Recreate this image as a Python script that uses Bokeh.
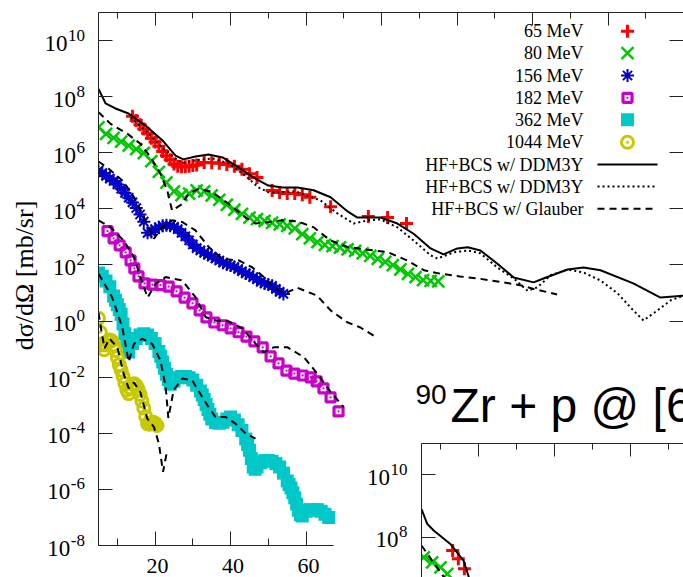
import math
from bokeh.plotting import figure
from bokeh.models import Range1d, LinearAxis, LogAxis, FixedTicker, Label, CustomJSTickFormatter
from bokeh.layouts import column
from bokeh.embed import file_html
from bokeh.resources import INLINE

# ------------------------------------------------------------------ data
# 65 MeV (red +)
red_deg = [14, 15, 16, 17, 18, 19, 20, 21, 22, 23, 24, 25, 26, 27, 28, 29, 30, 31, 33, 35, 37, 39,
           41, 43, 45, 47, 51, 53, 55, 57, 59, 61, 66.5, 76.5, 81.6, 86.6]
red_xs = [2.0e7, 1.4e7, 1.0e7, 7.1e6, 5.0e6, 3.3e6, 2.4e6, 1.7e6, 1.1e6, 7.9e5, 5.6e5, 4.0e5, 3.3e5,
          3.2e5, 3.2e5, 3.3e5, 3.5e5, 3.7e5, 4.5e5, 4.4e5, 4.2e5, 3.8e5, 3.3e5, 2.6e5, 1.8e5, 1.3e5,
          4.5e4, 3.8e4, 3.5e4, 3.5e4, 3.2e4, 2.6e4, 1.2e4, 5.4e3, 4.9e3, 3.0e3]
# 80 MeV (green x)
green_deg = [5, 7, 9, 11, 13, 15, 17, 19, 21, 23, 25, 27, 29, 31, 33, 35, 37, 39, 41, 43, 45, 47, 49,
             51, 53, 55, 57, 59, 61, 63, 65, 67, 69, 71, 73, 75, 77, 79, 81, 83, 85, 87, 89, 91, 93, 95]
green_xs = [8.1e6, 4.7e6, 3.4e6, 2.5e6, 1.8e6, 1.35e6, 9.8e5, 5.0e5, 2.1e5, 8.7e4, 4.2e4, 3.1e4, 3.5e4,
            4.6e4, 4.2e4, 3.0e4, 2.1e4, 1.4e4, 9.3e3, 6.6e3, 4.9e3, 4.3e3, 3.7e3, 3.2e3, 2.8e3, 2.5e3,
            2.0e3, 1.26e3, 8.9e2, 6.5e2, 5.2e2, 4.7e2, 4.2e2, 3.6e2, 3.2e2, 2.6e2, 2.1e2, 1.66e2, 1.29e2,
            98, 69, 48, 37, 29, 27, 26]
# 156 MeV (blue *)
blue_deg = [5, 6, 7, 8, 9, 10, 11, 12, 13, 14, 15, 16, 17, 18, 19, 20, 21, 22, 23, 24, 25, 26, 27, 28,
            29, 30, 31, 32, 33, 34, 35, 36, 37, 38, 39, 40, 41, 42, 43, 44, 45, 46, 47, 48, 49, 50, 51,
            52, 53, 54]
blue_xs = [2.3e5, 1.9e5, 1.5e5, 1.2e5, 9.8e4, 7.4e4, 5.2e4, 3.7e4, 2.5e4, 1.7e4, 1.07e4, 6.3e3, 3.5e3,
           1.4e3, 1.5e3, 1.9e3, 2.2e3, 2.5e3, 2.6e3, 2.5e3, 2.3e3, 1.9e3, 1.4e3, 1.05e3, 7.6e2, 5.4e2,
           4.0e2, 3.3e2, 2.7e2, 2.3e2, 2.0e2, 1.7e2, 1.45e2, 1.2e2, 1.07e2, 95, 85, 72, 60, 50, 44, 37,
           31, 25, 22, 20, 18, 14, 11, 9.3]
# 182 MeV (magenta squares)
mag_deg = [7.4, 9.0, 10.6, 12.2, 13.5, 14.5, 15.6, 17.2, 19.3, 21.4, 23.6, 25.7, 27.8, 29.9, 31.8, 33.6,
           35.7, 37.9, 40.0, 42.1, 44.2, 46.3, 48.5, 50.6, 52.7, 54.8, 56.9, 59.1, 61.2, 62.8, 64.6,
           66.5, 68.6]
mag_xs = [1.6e3, 8.9e2, 5.0e2, 2.8e2, 1.45e2, 76, 39, 22, 20, 19, 17, 11.5, 6.9, 4.3, 2.4, 1.35, 0.89,
          0.71, 0.55, 0.40, 0.28, 0.19, 0.115, 0.055, 0.031, 0.017, 0.0135, 0.0115, 0.0098, 0.0071,
          0.0040, 0.0019, 0.0006]
# 362 MeV (cyan filled squares)
cyan_deg = [5, 6, 7, 8, 9, 9.5, 10, 10.5, 11, 11.5, 12, 12.5, 13, 14, 15, 16, 17, 18, 19, 20, 21, 21.5,
            22, 22.5, 23, 23.5, 24, 25, 26, 27, 28, 29, 30, 31, 32, 32.5, 33, 33.5, 34, 34.5, 35, 36,
            37, 38, 39, 40, 41, 42, 43, 44, 44.5, 45, 45.5, 46, 46.5, 47, 48, 49, 50, 51, 52, 53, 54,
            55, 55.5, 56, 56.5, 57, 57.5, 58, 58.5, 59, 60, 61, 62, 63, 64, 65, 66]
cyan_xs = [52, 40, 27, 16.6, 7.9, 5.5, 3.8, 2.6, 1.74, 0.79, 0.35, 0.166, 0.079, 0.158, 0.24, 0.32,
           0.35, 0.32, 0.24, 0.158, 0.083, 0.056, 0.035, 0.021, 0.0126, 0.0083, 0.0056, 0.0071, 0.0095,
           0.0105, 0.0105, 0.0095, 0.0079, 0.0052, 0.0032, 0.0023, 0.0016, 0.00107, 0.00071, 0.00048,
           0.00032, 0.00024, 0.00023, 0.00025, 0.00032, 0.00038, 0.0003, 0.0002, 0.000126, 6.3e-5,
           4.0e-5, 2.5e-5, 1.26e-5, 6.3e-6, 5.2e-6, 6.3e-6, 8.9e-6, 1.05e-5, 1.07e-5, 1.0e-5, 8.3e-6,
           6.3e-6, 3.8e-6, 2.0e-6, 1.5e-6, 1.12e-6, 7.6e-7, 5.0e-7, 3.0e-7, 1.8e-7, 1.26e-7, 1.12e-7,
           1.66e-7, 1.9e-7, 1.8e-7, 1.9e-7, 1.66e-7, 1.3e-7, 1.0e-7]
# 1044 MeV (olive open circles)
ol_deg = [5.0, 5.5, 6.0, 6.5, 7.0, 7.5, 8.0, 8.5, 9.0, 9.5, 10.0, 10.5, 11.0, 11.5, 12.0, 12.5, 13.0,
          13.5, 14.0, 14.5, 15.0, 15.5, 16.0, 16.5, 17.0, 17.5, 18.0, 18.5, 19.0, 19.5, 20.0, 20.5]
ol_xs = [1.26, 0.40, 0.141, 0.095, 0.141, 0.19, 0.21, 0.20, 0.141, 0.089, 0.050, 0.028, 0.0178, 0.0105,
         0.0060, 0.0035, 0.0026, 0.0040, 0.0056, 0.0058, 0.0050, 0.0038, 0.0024, 0.00141, 0.00079,
         0.00040, 0.00022, 0.00021, 0.00024, 0.00025, 0.00023, 0.00019]

# theory curves
s65_deg = [5.0, 6.85, 9.5, 12.95, 17.45, 21.9, 25.4, 27.5, 30.7, 34.15, 37.9, 42.1, 46.6, 50.0, 53.75,
           57.7, 62.0, 66.5, 71.0, 73.6, 76.3, 79.7, 84.2, 88.5, 93.0, 96.4, 100.1, 102.8, 106.2, 110.7,
           115.0, 120.3, 122.9, 129.3, 133.5, 138.0, 146.7, 153.9, 160.0]
s65_xs = [1.9e8, 5.8e7, 3.8e7, 2.5e7, 9.3e6, 2.8e6, 7.9e5, 5.8e5, 7.4e5, 8.7e5, 6.8e5, 3.0e5, 1.2e5,
          6.8e4, 5.8e4, 5.8e4, 4.6e4, 2.6e4, 8.1e3, 4.9e3, 4.9e3, 4.9e3, 3.0e3, 1.3e3, 3.9e2, 2.4e2,
          3.9e2, 4.3e2, 3.3e2, 1.1e2, 36, 24, 33, 69, 81, 65, 22, 6.9, 8.1]
d65_deg = [13.5, 17.45, 21.95, 25.4, 27.3, 30.7, 35.2, 39.45, 43.95, 47.4, 50.05, 53.75, 57.2, 63.8,
           68.3, 72.6, 76.3, 79.7, 84.2, 88.5, 93.0, 94.8, 99.1, 102.8, 106.2, 110.7, 115.0, 118.7,
           121.3, 124.8, 129.3, 133.5, 138.0, 142.5, 146.7, 149.4, 153.1, 156.6, 160.0]
d65_xs = [1.8e7, 6.2e6, 1.5e6, 6.3e5, 4.2e5, 5.4e5, 6.3e5, 4.2e5, 1.5e5, 5.8e4, 3.9e4, 3.9e4, 4.2e4,
          2.0e4, 6.9e3, 3.0e3, 3.9e3, 4.2e3, 2.2e3, 7.4e2, 2.2e2, 1.7e2, 2.8e2, 3.3e2, 2.6e2, 81, 33,
          12, 16, 43, 69, 54, 28, 9.8, 2.4, 1.05, 2.4, 5.5, 8.1]
g80_deg = [5.0, 8.2, 12.6, 16.1, 18.8, 21.4, 23.2, 24.5, 27.2, 28.9, 31.6, 35.1, 39.5, 43.9, 46.6, 50.1,
           53.7, 57.7, 62.0, 66.5, 70.9, 76.2, 81.5, 86.8, 91.2, 95.5, 100.8, 106.2, 111.5, 116.8,
           120.3, 126.5]
g80_xs = [2.8e7, 1.07e7, 4.8e6, 2.1e6, 6.9e5, 1.8e5, 4.6e4, 8.7e3, 1.5e4, 3.5e4, 5.2e4, 4.0e4, 1.5e4,
          5.0e3, 3.0e3, 3.4e3, 3.9e3, 3.6e3, 2.2e3, 7.4e2, 4.4e2, 3.5e2, 2.9e2, 1.45e2, 65, 49, 39, 32,
          25, 19, 14, 8.9]
g156_deg = [5.0, 7.7, 11.3, 13.9, 16.6, 19.7, 21.9, 24.5, 27.2, 30.7, 34.2, 37.8, 42.2, 45.7, 48.8,
            51.9, 54.6, 57.6, 62.9, 66.5, 70.9, 74.4, 78.3]
g156_xs = [4.9e5, 2.7e5, 1.02e5, 3.5e4, 6.8e3, 8.7e2, 2.2e3, 3.9e3, 3.4e3, 1.7e3, 4.4e2, 1.66e2, 1.45e2,
           83, 37, 14, 9.8, 15.5, 8.1, 2.4, 0.91, 0.59, 0.28]
g182_deg = [5.0, 8.2, 11.7, 14.4, 16.1, 18.0, 20.1, 22.8, 27.2, 30.7, 33.4, 36.0, 39.5, 43.1, 46.6,
            48.8, 51.5, 55.0, 59.4, 63.0, 66.5, 70.0]
g182_xs = [3.9e3, 2.2e3, 7.4e2, 1.9e2, 37, 6.9, 21, 37, 28, 7.1, 1.38, 1.05, 0.98, 0.55, 0.158, 0.076,
           0.117, 0.117, 0.052, 0.0132, 0.0030, 0.00085]
g362_deg = [5.0, 8.6, 11.3, 12.6, 13.0, 14.4, 16.6, 19.2, 21.4, 22.8, 23.5, 24.9, 27.2, 29.8, 32.5,
            34.2, 36.0, 38.7, 41.3, 44.0, 46.6]
g362_xs = [49, 7.1, 0.60, 0.069, 0.035, 0.155, 0.234, 0.155, 0.040, 0.0045, 0.00035, 0.0034, 0.0089,
           0.0078, 0.00195, 0.00085, 0.00038, 0.00038, 0.00022, 9.8e-5, 6.5e-5]
g1044_deg = [5.0, 5.9, 6.6, 7.9, 10.0, 11.7, 13.0, 14.4, 16.1, 17.9, 19.7, 21.0, 22.1, 23.2]
g1044_xs = [2.0, 0.36, 0.107, 0.24, 0.115, 0.0126, 0.0040, 0.0065, 0.0029, 0.00034, 0.000166, 4.3e-5,
            4.2e-6, 2.5e-5]

# inset (second panel, only its corner is visible)
ins_solid_deg = [5.0, 6.5, 8.2, 12.6, 16.1, 17.5, 18.5]
ins_solid_xs = [8.1e8, 2.7e8, 1.66e8, 6.2e7, 1.8e7, 5.2e6, 2.5e6]
ins_dash_deg = [5.0, 10.9, 12.5]
ins_dash_xs = [5.5e7, 5.4e6, 2.6e6]
ins_red_deg = [13.2, 14.7, 16.3]
ins_red_xs = [3.8e7, 2.1e7, 1.0e7]
ins_green_deg = [5.6, 7.8, 10.0, 11.8]
ins_green_xs = [2.3e7, 1.6e7, 1.1e7, 6.9e6]

# ticks / texts
x_major = [20, 40, 60, 80, 100, 120, 140, 160]
x_minor = [10, 30, 50, 70, 90, 110, 130, 150]
x_bottom = [20, 40, 60]
x_bottom_minor = [10, 30, 50]
x_labels = ["20", "40", "60"]
y_major = [1e10, 1e8, 1e6, 1e4, 1e2, 1e0, 1e-2, 1e-4, 1e-6, 1e-8]
y_exps = ["10", "8", "6", "4", "2", "0", "-2", "-4", "-6", "-8"]
y_right = [1e10, 1e8, 1e6, 1e4, 1e2, 1e0]
ins_y_major = [1e10, 1e8]
ins_y_exps = ["10", "8"]
legend_labels = ["65 MeV", "80 MeV", "156 MeV", "182 MeV", "362 MeV", "1044 MeV",
                 "HF+BCS w/ DDM3Y", "HF+BCS w/ DDM3Y", "HF+BCS w/ Glauber"]
y_title = "dσ/dΩ [mb/sr]"
title_sup = "90"
title_main = "Zr + p @ [6"

# ------------------------------------------------------------------ styles
SERIF = "Liberation Serif"
SANS = "Liberation Sans"
AXC = "#222222"
RED, GREEN, BLUE, MAG, CYAN, OLIVE = "#ff0000", "#00c800", "#0000c8", "#c800c8", "#00c8c8", "#c8c800"
M65 = dict(marker="cross", size=13, line_width=3, line_color=RED, fill_color=None)
M80 = dict(marker="x", size=17, line_width=2.5, line_color=GREEN, fill_color=None)
M156 = dict(marker="asterisk", size=13, line_width=2, line_color=BLUE, fill_color=None)
M182 = dict(marker="square_dot", size=9, line_width=3.2, line_color=MAG, fill_color=None)
M362 = dict(marker="square", size=13, line_width=0, line_color=CYAN, fill_color=CYAN)
M1044 = dict(marker="circle_dot", size=12, line_width=3, line_color=OLIVE, fill_color=None)
L_SOLID = dict(line_color="black", line_width=2)
L_DOT = dict(line_color="black", line_width=2, line_dash="2 3")
L_DASH = dict(line_color="black", line_width=2, line_dash="7 5")
EXP_W = {"-": 0.333}


def mapper(fl, fr, ft, fb, xr, yr):
    ly0, ly1 = math.log10(yr[0]), math.log10(yr[1])

    def fx(px):
        return xr[0] + (px - fl) * (xr[1] - xr[0]) / (fr - fl)

    def fy(py):
        return 10 ** (ly1 - (py - ft) * (ly1 - ly0) / (fb - ft))

    def tx(v):
        return fl + (v - xr[0]) * (fr - fl) / (xr[1] - xr[0])

    def ty(v):
        return ft + (ly1 - math.log10(v)) * (fb - ft) / (ly1 - ly0)
    return fx, fy, tx, ty


def tick_style(ax, major_in, minor_in, line=True):
    ax.major_tick_in = major_in
    ax.major_tick_out = 0
    ax.minor_tick_in = minor_in
    ax.minor_tick_out = 0
    ax.major_tick_line_color = AXC
    ax.minor_tick_line_color = AXC if minor_in else None
    ax.axis_line_color = AXC if line else None


def blank_labels(ax):
    ax.formatter = CustomJSTickFormatter(code="return ''")
    ax.major_label_text_font_size = "0px"
    ax.major_label_standoff = 0


def make_fig(w, h, ml, mr, mt, mb, xr, yr, xloc="below", yloc="left"):
    f = figure(width=w, height=h, x_range=Range1d(*xr), y_range=Range1d(*yr), y_axis_type="log",
               x_axis_location=xloc, y_axis_location=yloc, output_backend="svg", toolbar_location=None,
               min_border_left=ml, min_border_right=mr, min_border_top=mt, min_border_bottom=mb)
    f.grid.visible = False
    f.outline_line_color = None
    f.background_fill_color = "white"
    f.border_fill_color = "white"
    return f


def text(fig, x, y, s, size, align="left", baseline="middle", font=SERIF, angle=0.0):
    fig.add_layout(Label(x=x, y=y, text=s, text_font=font, text_font_size=f"{size}px",
                         text_align=align, text_baseline=baseline, text_color="black", angle=angle))


def power_labels(fig, fx, fy, ty, vals, exps, right_px):
    for v, e in zip(vals, exps):
        tpy = ty(v)
        w = sum(EXP_W.get(c, 0.5) for c in e) * 17
        text(fig, fx(right_px), fy(tpy - 5.5), e, 17, align="right")
        text(fig, fx(right_px - w - 0.5), fy(tpy + 2.5), "10", 23, align="right")


# ------------------------------------------------------------------ main panel
XR, YR = (5, 160), (1e-8, 1e11)
p = make_fig(683, 577, 98, 0, 12, 32, XR, YR)
fx, fy, tx, ty = mapper(98, 683, 12, 545, XR, YR)

bx = p.below[0]
bx.ticker = FixedTicker(ticks=x_bottom, minor_ticks=x_bottom_minor)
bx.bounds = (5, 67.3)
tick_style(bx, 14, 7)
blank_labels(bx)

ly = p.left[0]
ly.ticker = FixedTicker(ticks=y_major, minor_ticks=[])
tick_style(ly, 14, 0)
blank_labels(ly)

top = LinearAxis(ticker=FixedTicker(ticks=x_major, minor_ticks=x_minor))
tick_style(top, 13, 6)
blank_labels(top)
p.add_layout(top, "above")
rax = LogAxis(ticker=FixedTicker(ticks=y_right, minor_ticks=[]))
tick_style(rax, 14, 0, line=False)
blank_labels(rax)
p.add_layout(rax, "right")

# data
p.scatter(red_deg, red_xs, **M65)
p.scatter(green_deg, green_xs, **M80)
p.scatter(blue_deg, blue_xs, **M156)
p.scatter(mag_deg, mag_xs, **M182)
p.scatter(cyan_deg, cyan_xs, **M362)
p.scatter(ol_deg, ol_xs, **M1044)
# curves
p.line(s65_deg, s65_xs, **L_SOLID)
p.line(d65_deg, d65_xs, **L_DOT)
p.line(g80_deg, g80_xs, **L_DASH)
p.line(g156_deg, g156_xs, **L_DASH)
p.line(g182_deg, g182_xs, **L_DASH)
p.line(g362_deg, g362_xs, **L_DASH)
p.line(g1044_deg, g1044_xs, **L_DASH)

# legend (text left of the sample, as in the original)
rows = [30.7, 52.7, 75.0, 97.3, 119.3, 141.7, 164.0, 186.0, 208.3]
mstyles = [M65, M80, M156, M182, M362, M1044]
lstyles = [L_SOLID, L_DOT, L_DASH]
for i, lab in enumerate(legend_labels):
    text(p, fx(583), fy(rows[i]), lab, 18, align="right")
    if i < 6:
        p.scatter([fx(627)], [fy(rows[i])], **mstyles[i])
    else:
        p.line([fx(597), fx(657)], [fy(rows[i]), fy(rows[i])], **lstyles[i - 6])

# panel title of the next slide
text(p, fx(415), fy(393.5), title_sup, 28, font=SANS)
text(p, fx(450), fy(404.5), title_main, 48, font=SANS)

# ------------------------------------------------------------------ inset (second panel corner)
IXR, IYR = (5, 74), (5.25e6, 1e11)
q = make_fig(360, 145, 98, 0, 11, 0, IXR, IYR, xloc="above")
q.background_fill_alpha = 0
q.border_fill_alpha = 0
gx, gy, gtx, gty = mapper(98, 360, 11, 145, IXR, IYR)
qa = q.above[0]
qa.ticker = FixedTicker(ticks=x_major, minor_ticks=x_minor)
tick_style(qa, 13, 6)
blank_labels(qa)
ql = q.left[0]
ql.ticker = FixedTicker(ticks=ins_y_major, minor_ticks=[])
tick_style(ql, 14, 0)
blank_labels(ql)

q.scatter(ins_red_deg, ins_red_xs, **M65)
q.scatter(ins_green_deg, ins_green_xs, **M80)
q.line(ins_solid_deg, ins_solid_xs, **L_SOLID)
q.line(ins_dash_deg, ins_dash_xs, **L_DASH)
q.margin = (-145, 0, 0, 323)

# ------------------------------------------------------------------ label layer over the margins
# its frame spans window x 0..585 (its own 98 px left border is pushed off-screen)
SW = 585
s = make_fig(683, 577, 98, 0, 0, 0, (fx(0), fx(SW)), (fy(577), fy(0)), xloc=None, yloc=None)
s.background_fill_alpha = 0
s.border_fill_alpha = 0
sx, sy, _, _ = mapper(0, SW, 0, 577, (fx(0), fx(SW)), (fy(577), fy(0)))
power_labels(s, sx, sy, ty, y_major, y_exps, 84.5)
ins_ty = lambda v: 432 + gty(v)
power_labels(s, sx, sy, ins_ty, ins_y_major, ins_y_exps, 421 - 14)
for lab in x_labels:
    text(s, sx(tx(float(lab)) + 2.5), sy(565.5), lab, 22, align="center")
text(s, sx(24), sy(275), y_title, 26, align="center", angle=math.pi / 2)
s.margin = (-577, 0, 0, -98)

layout = column(p, q, s, spacing=0)
open("out.html", "w").write(file_html(layout, INLINE))
